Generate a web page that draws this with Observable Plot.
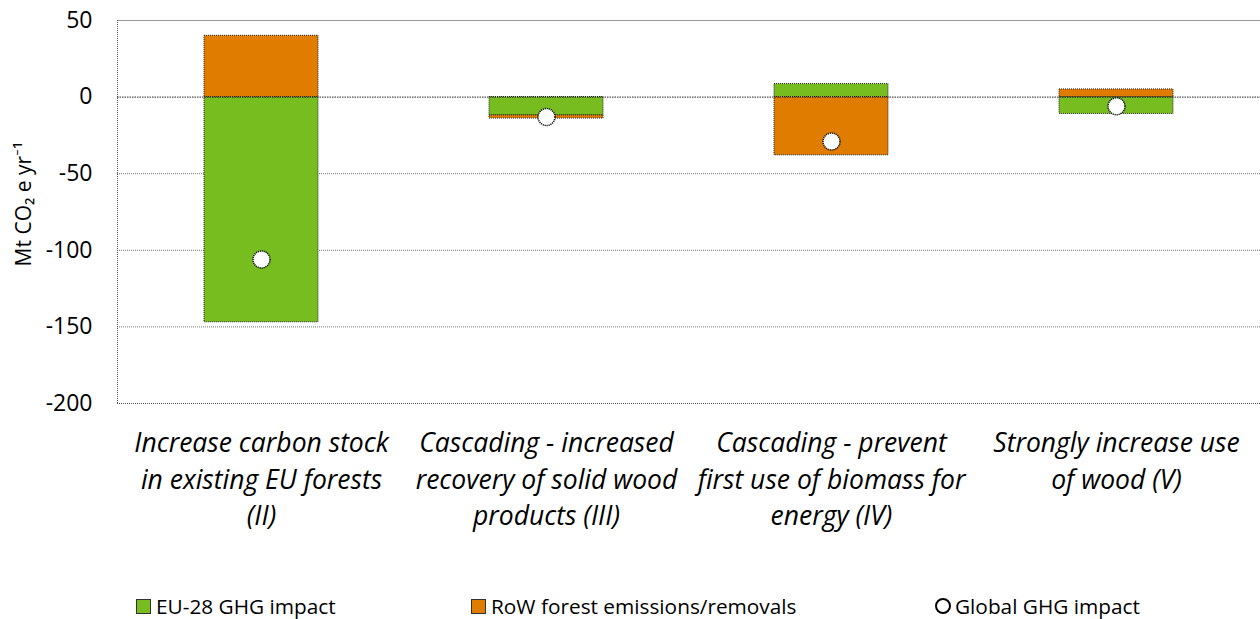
<!DOCTYPE html>
<html>
<head>
<meta charset="utf-8">
<script src="https://cdn.jsdelivr.net/npm/d3@7"></script>
<script src="https://cdn.jsdelivr.net/npm/@observablehq/plot@0.6"></script>
<style>
  body { margin: 0; background: #fff; font-family: "Open Sans", Lato, sans-serif; }
  #chart { position: relative; width: 1260px; }
  #legend { position: relative; width: 1260px; height: 34px; font-size: 20.8px; color: #000; }
  .item { position: absolute; top: 7px; display: flex; align-items: center; white-space: nowrap; }
  .sw { width: 15px; height: 15px; border: 1px solid #333; margin-right: 5px; box-sizing: border-box; }
  .cir { width: 16px; height: 16px; border: 2px solid #000; border-radius: 50%; margin-right: 4px; box-sizing: border-box; background: #fff; }
</style>
</head>
<body>
<div id="chart"></div>
<div id="legend">
  <div class="item" style="left:136px"><div class="sw" style="background:#78bd20"></div>EU-28 GHG impact</div>
  <div class="item" style="left:471px"><div class="sw" style="background:#e07c00"></div>RoW forest emissions/removals</div>
  <div class="item" style="left:935px"><div class="cir"></div>Global GHG impact</div>
</div>
<script>
const categories = ["II", "III", "IV", "V"];
const categoryLabels = [
  "Increase carbon stock\nin existing EU forests\n(II)",
  "Cascading - increased\nrecovery of solid wood\nproducts (III)",
  "Cascading - prevent\nfirst use of biomass for\nenergy (IV)",
  "Strongly increase use\nof wood (V)"
];
const euImpact = [-147, -12, 8.5, -11];
const rowImpact = [40, -2, -38, 5];
const globalImpact = [-106, -13, -29, -6];
const yTicks = [50, 0, -50, -100, -150, -200];
const seriesNames = ["EU-28 GHG impact", "RoW forest emissions/removals"];
const seriesColors = ["#78bd20", "#e07c00"];

const barData = [];
categories.forEach((c, i) => {
  barData.push({cat: c, series: seriesNames[0], value: euImpact[i]});
  barData.push({cat: c, series: seriesNames[1], value: rowImpact[i]});
});
const dotData = categories.map((c, i) => ({cat: c, value: globalImpact[i]}));
const labelData = categories.map((c, i) => ({cat: c, label: categoryLabels[i]}));

// left plot border (dotted), drawn from the y scale
const leftBorder = (index, scales, values, dims) => {
  const g = d3.create("svg:g").attr("fill", "none");
  g.append("line")
    .attr("x1", dims.marginLeft + 0.5).attr("x2", dims.marginLeft + 0.5)
    .attr("y1", scales.y(50)).attr("y2", scales.y(-200))
    .attr("stroke", "#555").attr("stroke-dasharray", "1,1");
  return g.node();
};

const chart = Plot.plot({
  width: 1260,
  height: 585,
  marginLeft: 117,
  marginRight: 0,
  marginTop: 20,
  marginBottom: 182,
  style: {fontFamily: "'Open Sans', Lato, sans-serif", background: "#fff", color: "#000", overflow: "visible"},
  x: {domain: categories, paddingInner: 0.6, paddingOuter: 0.3, axis: null},
  y: {domain: [-200, 50], ticks: yTicks, label: null},
  color: {domain: seriesNames, range: seriesColors},
  marks: [
    Plot.ruleY(yTicks.filter(t => t !== 0 && t !== -200 && t !== 50), {stroke: "#777", strokeWidth: 1, strokeDasharray: "1,1"}),
    Plot.ruleY([50], {stroke: "#999", strokeWidth: 1}),
    Plot.ruleY([-200], {stroke: "#555", strokeWidth: 1, strokeDasharray: "1,1"}),
    leftBorder,
    Plot.barY(barData, {x: "cat", y: "value", fill: "series", stroke: "#222", strokeWidth: 1, strokeDasharray: "1,1"}),
    Plot.ruleY([0], {stroke: "#222", strokeWidth: 1, strokeDasharray: "1.5,1"}),
    Plot.dot(dotData, {x: "cat", y: "value", r: 8.5, fill: "#fff", stroke: "#111", strokeWidth: 1.5, strokeDasharray: "1.2,0.8"}),
    Plot.axisY({ticks: yTicks, tickSize: 0, tickPadding: 25, fontSize: 23, label: null, tickFormat: d => String(d)}),
    Plot.text(["Mt CO₂ e yr⁻¹"], {frameAnchor: "left", textAnchor: "middle", dx: -93, dy: -8, rotate: -90, fontSize: 21, text: d => d}),
    Plot.text(labelData, {x: "cat", text: "label", frameAnchor: "bottom", lineAnchor: "top", dy: 23, fontSize: 26.5, fontStyle: "italic", lineHeight: 1.37})
  ]
});
document.getElementById("chart").appendChild(chart);
</script>
</body>
</html>
